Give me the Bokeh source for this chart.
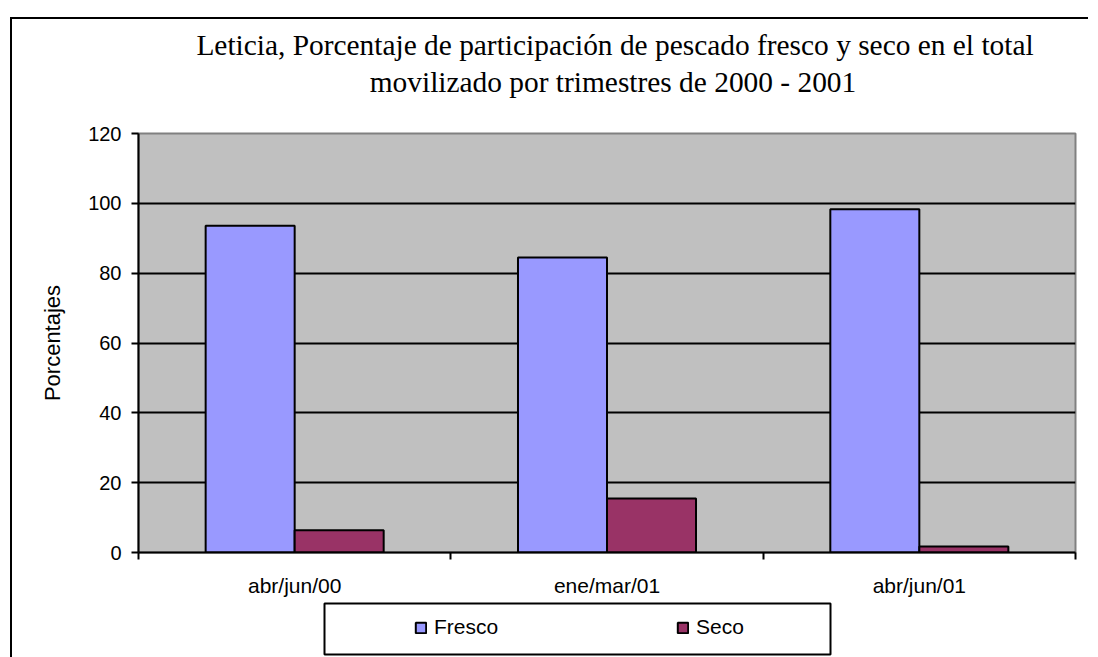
import numpy as np
from bokeh.plotting import figure
from bokeh.layouts import column
from bokeh.models import (ColumnDataSource, Range1d, FixedTicker, Legend, LegendItem,
                          Label, BoxAnnotation)
from bokeh.embed import file_html
from bokeh.resources import INLINE

# ---- data ----
categories = ["abr/jun/00", "ene/mar/01", "abr/jun/01"]
fresco = [93.6, 84.5, 98.3]
seco = [6.4, 15.5, 1.7]
series_names = ["Fresco", "Seco"]
y_ticks = [0, 20, 40, 60, 80, 100, 120]

title_lines = ["Leticia, Porcentaje de participación de pescado fresco y seco en el total",
               "movilizado por trimestres de 2000 - 2001"]

FRESCO_COLOR = "#9999FF"
SECO_COLOR = "#993366"
SANS = "Liberation Sans"
SERIF = "Liberation Serif"
W = 1076
# plot frame in page pixels (frames of the stacked figures are aligned)
FRAME_L, FRAME_R = 138, 1075


def blank(height):
    f = figure(width=W, height=height, output_backend="svg", toolbar_location=None,
               x_range=Range1d(FRAME_L, FRAME_R), y_range=Range1d(0, height),
               x_axis_type=None, y_axis_type=None,
               min_border=0, min_border_left=0, min_border_right=0,
               min_border_top=0, min_border_bottom=0,
               background_fill_color="white", border_fill_color="white")
    f.outline_line_color = None
    f.title.visible = False
    return f


# ---- title strip ----
TOP_H = 100
top = blank(TOP_H)
top.add_layout(Label(x=614.5, y=74.5, text=title_lines[0], text_align="center",
                     text_baseline="alphabetic", text_font=SERIF,
                     text_font_size="29.4px", text_color="black"))
top.add_layout(Label(x=612.5, y=38, text=title_lines[1], text_align="center",
                     text_baseline="alphabetic", text_font=SERIF,
                     text_font_size="29.4px", text_color="black"))

# ---- main chart ----
centers = np.arange(len(categories)) + 0.5
bar_w = 0.285
src = ColumnDataSource(dict(
    cat=categories,
    x_f=centers - bar_w / 2,
    x_s=centers + bar_w / 2,
    fresco=fresco,
    seco=seco,
))

p = figure(width=W, height=481, output_backend="svg", toolbar_location=None,
           x_range=Range1d(0, len(categories)), y_range=Range1d(0, 120),
           min_border_left=126, min_border_top=14, min_border_right=13,
           min_border_bottom=48,
           background_fill_color="#C0C0C0", border_fill_color="white")
p.title.visible = False
p.outline_line_color = "#808080"
p.outline_line_width = 2

bar_style = dict(line_color="black", line_width=2)
r1 = p.vbar(x="x_f", top="fresco", width=bar_w, source=src, fill_color=FRESCO_COLOR,
            **bar_style)
r2 = p.vbar(x="x_s", top="seco", width=bar_w, source=src, fill_color=SECO_COLOR,
            **bar_style)

xa = p.xaxis[0]
xa.ticker = FixedTicker(ticks=list(centers), minor_ticks=list(range(len(categories) + 1)))
xa.major_label_overrides = {float(c): lab for c, lab in zip(centers, categories)}
xa.major_tick_in = 0
xa.major_tick_out = 0
xa.minor_tick_in = 0
xa.minor_tick_out = 7
xa.minor_tick_line_color = "black"
xa.minor_tick_line_width = 2
xa.axis_line_color = "black"
xa.axis_line_width = 2
xa.major_label_text_font = SANS
xa.major_label_text_font_size = "21px"
xa.major_label_text_color = "black"
xa.major_label_standoff = 14

ya = p.yaxis[0]
ya.ticker = FixedTicker(ticks=y_ticks, minor_ticks=[])
ya.major_tick_in = 0
ya.major_tick_out = 7
ya.major_tick_line_color = "black"
ya.major_tick_line_width = 2
ya.axis_line_color = "black"
ya.axis_line_width = 2
ya.major_label_text_font = SANS
ya.major_label_text_font_size = "20px"
ya.major_label_text_color = "black"
ya.major_label_standoff = 10
ya.axis_label = "Porcentajes"
ya.axis_label_text_font = SANS
ya.axis_label_text_font_size = "22px"
ya.axis_label_text_font_style = "normal"
ya.axis_label_text_color = "black"
ya.axis_label_standoff = 20

p.xgrid.visible = False
p.ygrid.ticker = FixedTicker(ticks=y_ticks[1:-1])
p.ygrid.grid_line_color = "black"
p.ygrid.grid_line_width = 2

# ---- legend strip ----
BOT_H = 57
bot = blank(BOT_H)
bot.add_layout(BoxAnnotation(left=324, right=830, top=54, bottom=3,
                             fill_color="white", fill_alpha=1.0,
                             line_color="black", line_width=2, line_alpha=1.0))
# legend keys: same series, not drawn in this strip
lr1 = bot.vbar(x="x_f", top="fresco", width=bar_w, source=src, fill_color=FRESCO_COLOR,
               visible=False, **bar_style)
lr2 = bot.vbar(x="x_s", top="seco", width=bar_w, source=src, fill_color=SECO_COLOR,
               visible=False, **bar_style)
legend = Legend(items=[LegendItem(label=series_names[0], renderers=[lr1]),
                       LegendItem(label=series_names[1], renderers=[lr2])],
                orientation="horizontal", location=(276, 18), padding=0, margin=0,
                spacing=172, glyph_width=13, glyph_height=13, label_height=13,
                label_width=70, label_standoff=7, border_line_color=None,
                background_fill_alpha=0, inactive_fill_alpha=0,
                label_text_font=SANS, label_text_font_size="21px",
                label_text_color="black")
bot.add_layout(legend, "center")

layout = column(top, p, bot, spacing=0, margin=(17, 0, 0, 10),
                styles={"border-left": "2px solid black", "border-top": "2px solid black"})

open("out.html", "w").write(file_html(layout, INLINE))
